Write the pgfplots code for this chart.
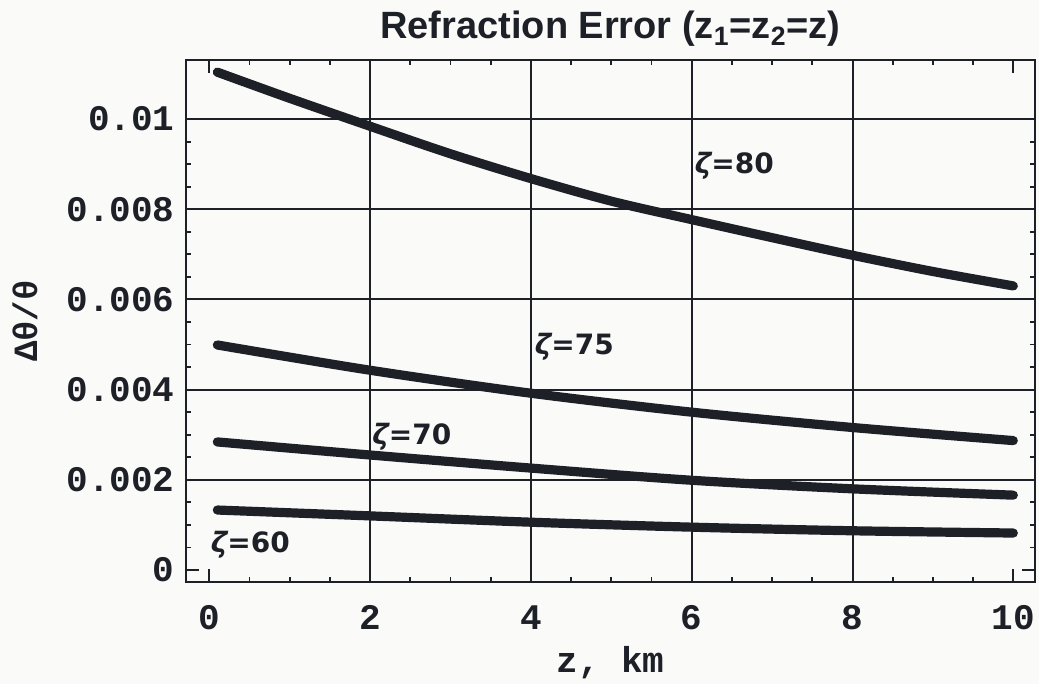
\documentclass[border=0pt]{standalone}
\usepackage{fontspec}
\usepackage{pgfplots}
\pgfplotsset{compat=1.18}
\setmainfont{Liberation Sans}
\newfontfamily\monofont{Liberation Mono}
\newfontfamily\labelfont{DejaVu Sans}

\definecolor{ink}{HTML}{1D2027}
\definecolor{paper}{HTML}{FAFAF8}

\newcommand{\tickfont}{\monofont\bfseries\fontsize{18}{18}\selectfont}
\newcommand{\zetalabel}[1]{{\labelfont\bfseries\fontsize{14}{14}\selectfont{\itshape ζ}=#1}}

\pgfplotsset{curve/.style={line width=4.6pt, color=ink, line cap=round, smooth, mark=none}}

\begin{document}
\begin{tikzpicture}
\useasboundingbox[fill=paper] (-93pt,-51pt) rectangle (426.5pt,291pt);
\begin{axis}[
  scale only axis,
  width=424.5pt, height=261pt,
  xmin=-0.29, xmax=10.27,
  ymin=-0.000266, ymax=0.01131,
  axis line style={line width=1.1pt, ink},
  tick align=inside,
  tick style={line width=0.9pt, ink},
  major tick length=6.5pt,
  minor tick length=2.5pt,
  xtick={0,2,4,6,8,10},
  xticklabels={0,2,4,6,8,10},
  minor x tick num=3,
  ytick={0,0.002,0.004,0.006,0.008,0.01},
  yticklabels={0,0.002,0.004,0.006,0.008,0.01},
  minor y tick num=3,
  scaled y ticks=false,
  /pgf/number format/assume math mode=true,
  extra x ticks={2,4,6,8},
  extra x tick labels={},
  extra x tick style={grid=major, major tick length=0pt},
  extra y ticks={0.002,0.004,0.006,0.008,0.01},
  extra y tick labels={},
  extra y tick style={grid=major, major tick length=0pt},
  major grid style={line width=1pt, ink},
  xticklabel style={font=\tickfont, text=ink, anchor=base, inner sep=0pt, yshift=-24pt},
  yticklabel style={font=\tickfont, text=ink, anchor=east, inner sep=0pt, xshift=-5.5pt},
  title={Refraction Error (z\textsubscript{1}=z\textsubscript{2}=z)},
  title style={font=\bfseries\fontsize{19}{19}\selectfont, text=ink,
    at={(axis description cs:0.5,1)}, anchor=base, yshift=4.5pt},
  xlabel={z, km},
  xlabel style={font=\tickfont, text=ink,
    at={(axis description cs:0.5,0)}, anchor=base, yshift=-45.5pt},
  ylabel={Δθ/θ},
  ylabel style={font=\monofont\bfseries\fontsize{17}{17}\selectfont, text=ink,
    at={(axis description cs:-0.1896,0.5)}, anchor=center},
  clip=false,
]
% zenith angle 80
\addplot[curve] coordinates {(0.1,0.01104) (1,0.01046) (2,0.00984) (3,0.00923) (4,0.00868) (5,0.00818) (6,0.00777) (7,0.00737) (8,0.00698) (9,0.00662) (10,0.0063)};
% zenith angle 75
\addplot[curve] coordinates {(0.1,0.00499) (2,0.00443) (4,0.00392) (6,0.00350) (8,0.00316) (10,0.00287)};
% zenith angle 70
\addplot[curve] coordinates {(0.1,0.00284) (2,0.00255) (4,0.00226) (6,0.00199) (8,0.0018) (10,0.00166)};
% zenith angle 60
\addplot[curve] coordinates {(0.1,0.00133) (2,0.0012) (4,0.00106) (6,0.00095) (8,0.00087) (10,0.00082)};

\node[text=ink] at (axis cs:6.53,0.00896) {\zetalabel{80}};
\node[text=ink] at (axis cs:4.54,0.00494) {\zetalabel{75}};
\node[text=ink] at (axis cs:2.52,0.00295) {\zetalabel{70}};
\node[text=ink] at (axis cs:0.51,0.00055) {\zetalabel{60}};
\end{axis}
\end{tikzpicture}
\end{document}
